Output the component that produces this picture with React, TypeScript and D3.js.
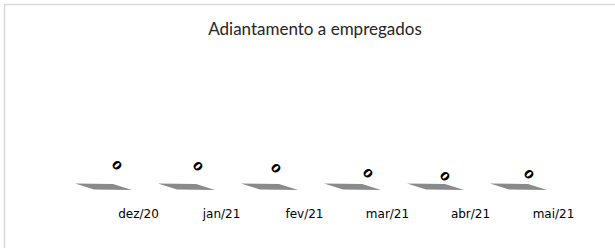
import React from "react";
import * as d3 from "d3";

// chart data
const months = ["dez/20", "jan/21", "fev/21", "mar/21", "abr/21", "mai/21"];
const values = [0, 0, 0, 0, 0, 0];
const title = "Adiantamento a empregados";

// small per-label nudges, as the original renderer placed them
const labelDx = [13, 11, 6, 15, 9, 10];
const labelDy = [-18, -17, -15, -10, -7, -9];

const W = 615;
const H = 248;

const App = () => {
  const x = d3.scaleBand<string>().domain(months).range([62, 560]).padding(0);
  const y = d3.scaleLinear().domain([0, 1]).range([183.5, 40]);

  const plate = (cx: number, top: number) => {
    const p = d3.path();
    p.moveTo(cx - 28.5, top);
    p.lineTo(cx + 9.5, top + 0.5);
    p.lineTo(cx + 28.5, top + 6.5);
    p.lineTo(cx - 9.5, top + 6);
    p.closePath();
    return p.toString();
  };

  return (
    <svg
      width={W}
      height={H}
      style={{ position: "fixed", left: 0, top: 0, background: "#fff" }}
    >
      <rect x={4.5} y={4.5} width={W + 10} height={H + 10} fill="#fff" stroke="#d9d9d9" strokeWidth={1.5} />
      <text
        x={315}
        y={35}
        textAnchor="middle"
        fontFamily="Lato, 'Open Sans', sans-serif"
        fontSize={17}
        fill="#262626"
      >
        {title}
      </text>
      {months.map((m, i) => {
        const cx = (x(m) ?? 0) + x.bandwidth() / 2;
        const top = y(values[i]);
        return (
          <g key={m}>
            <path d={plate(cx, top)} fill="#8a8a8a" />
            <text
              transform={`translate(${cx + labelDx[i]},${top + labelDy[i]}) rotate(48) scale(1,0.9)`}
              textAnchor="middle"
              dominantBaseline="central"
              fontFamily="'DejaVu Sans', sans-serif"
              fontSize={13}
              fontWeight="bold"
              fill="#000"
            >
              {values[i]}
            </text>
            <text
              x={cx + 35}
              y={218}
              textAnchor="middle"
              fontFamily="'DejaVu Sans', sans-serif"
              fontSize={12}
              fill="#000"
            >
              {m}
            </text>
          </g>
        );
      })}
    </svg>
  );
};

export default App;
